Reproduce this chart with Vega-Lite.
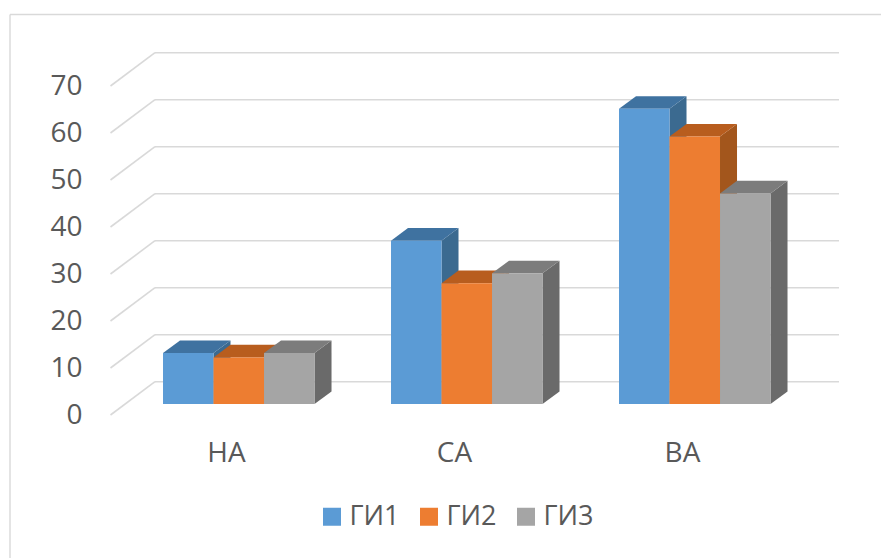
{
  "$schema": "https://vega.github.io/schema/vega-lite/v6.json",
  "autosize": "none",
  "width": 871.5,
  "height": 544,
  "padding": {"left": 9.5, "top": 14, "right": 0, "bottom": 0},
  "background": "white",
  "config": {"view": {"stroke": null}, "font": "Open Sans"},
  "datasets": {
    "levels": [
      {"level": 0}, {"level": 10}, {"level": 20}, {"level": 30},
      {"level": 40}, {"level": 50}, {"level": 60}, {"level": 70}
    ],
    "results": [
      {"group": "НА", "series": "ГИ1", "value": 10.85},
      {"group": "НА", "series": "ГИ2", "value": 9.9},
      {"group": "НА", "series": "ГИ3", "value": 10.85},
      {"group": "СА", "series": "ГИ1", "value": 34.75},
      {"group": "СА", "series": "ГИ2", "value": 25.7},
      {"group": "СА", "series": "ГИ3", "value": 27.8},
      {"group": "ВА", "series": "ГИ1", "value": 62.8},
      {"group": "ВА", "series": "ГИ2", "value": 56.9},
      {"group": "ВА", "series": "ГИ3", "value": 44.8}
    ]
  },
  "resolve": {"axis": {"x": "independent", "y": "independent"}},
  "layer": [
    {
      "data": {"name": "levels"},
      "transform": [
        {"calculate": "-0.5066", "as": "sideFrontX"},
        {"calculate": "-0.3114", "as": "sideBackX"},
        {"calculate": "datum.level - 2.34", "as": "sideFrontY"},
        {"calculate": "datum.level + 4.74", "as": "sideBackY"}
      ],
      "mark": {"type": "rule", "color": "#D9D9D9", "strokeWidth": 1.6},
      "encoding": {
        "x": {
          "field": "sideFrontX", "type": "quantitative",
          "scale": {"domain": [-0.9496, 2.8728], "nice": false, "zero": false},
          "axis": {"orient": "top", "title": null, "labels": false, "ticks": false, "grid": false, "domain": true, "domainColor": "#D9D9D9", "domainWidth": 1.4}
        },
        "x2": {"field": "sideBackX"},
        "y": {
          "field": "sideFrontY", "type": "quantitative",
          "scale": {"domain": [-32.77, 82.98], "nice": false, "zero": false},
          "axis": {"orient": "left", "title": null, "labels": false, "ticks": false, "grid": false, "domain": true, "domainColor": "#D9D9D9", "domainWidth": 1.4}
        },
        "y2": {"field": "sideBackY"}
      }
    },
    {
      "data": {"name": "levels"},
      "transform": [
        {"calculate": "-0.3114", "as": "backLeftX"},
        {"calculate": "2.6886", "as": "backRightX"},
        {"calculate": "datum.level + 4.74", "as": "backY"}
      ],
      "mark": {"type": "rule", "color": "#D9D9D9", "strokeWidth": 1.6},
      "encoding": {
        "x": {
          "field": "backLeftX", "type": "quantitative",
          "scale": {"domain": [-0.9496, 2.8728], "nice": false, "zero": false},
          "axis": {
            "orient": "bottom", "title": null, "values": [0, 1, 2],
            "labelExpr": "['НА', 'СА', 'ВА'][datum.value]",
            "offset": -119, "labelPadding": 0, "labelFontSize": 28, "labelColor": "#595959",
            "labelFont": "Open Sans", "labelAngle": 0, "labelBaseline": "top", "labelFlush": false, "labelOverlap": false,
            "ticks": false, "grid": false, "domain": false
          }
        },
        "x2": {"field": "backRightX"},
        "y": {
          "field": "backY", "type": "quantitative",
          "scale": {"domain": [-32.77, 82.98], "nice": false, "zero": false},
          "axis": {
            "orient": "left", "title": null, "values": [0, 10, 20, 30, 40, 50, 60, 70],
            "offset": -72.5, "labelPadding": 0, "labelOffset": 11.7, "labelFontSize": 28, "labelColor": "#595959",
            "labelFont": "Open Sans", "labelBaseline": "middle", "labelFlush": false, "labelOverlap": false,
            "ticks": false, "grid": false, "domain": false
          }
        }
      }
    },
    {
      "data": {"name": "results"},
      "transform": [
        {"calculate": "indexof(['НА', 'СА', 'ВА'], datum.group) - 0.2763 + indexof(['ГИ1', 'ГИ2', 'ГИ3'], datum.series) * 0.2215", "as": "x0"},
        {"calculate": "datum.x0 + 0.2215", "as": "x1"},
        {"calculate": "[datum.x1, datum.x1 + 0.0746, datum.x0, datum.x0 + 0.0746, datum.x1, datum.x1 + 0.0746, datum.x0, datum.x1]", "as": "vx"},
        {"calculate": "[datum.value, datum.value + 2.68, datum.value, datum.value + 2.68, datum.value + 2.68, datum.value + 2.68, datum.value, datum.value]", "as": "vy"},
        {"calculate": "[0, 2.68, datum.value, datum.value, datum.value, datum.value + 2.68, 0, 0]", "as": "vy2"},
        {"calculate": "[' бок', ' бок', ' верх', ' верх', ' верх', ' верх', '', '']", "as": "vface"},
        {"flatten": ["vx", "vy", "vy2", "vface"]},
        {"calculate": "datum.series + datum.vface", "as": "shade"},
        {"calculate": "datum.group + ' ' + datum.shade", "as": "piece"}
      ],
      "mark": {"type": "area", "opacity": 1, "interpolate": "linear"},
      "encoding": {
        "x": {"field": "vx", "type": "quantitative", "axis": null},
        "y": {"field": "vy", "type": "quantitative", "axis": null, "stack": null},
        "y2": {"field": "vy2"},
        "detail": {"field": "piece"},
        "color": {
          "field": "shade", "type": "nominal",
          "scale": {
            "domain": ["ГИ1", "ГИ2", "ГИ3", "ГИ1 верх", "ГИ2 верх", "ГИ3 верх", "ГИ1 бок", "ГИ2 бок", "ГИ3 бок"],
            "range": ["#5B9BD5", "#ED7D31", "#A5A5A5", "#3F72A0", "#B85D1E", "#7C7C7C", "#3B6A90", "#A3561C", "#6A6A6A"]
          },
          "legend": {
            "values": ["ГИ1", "ГИ2", "ГИ3"],
            "orient": "none", "legendX": 309, "legendY": 489, "direction": "horizontal", "columns": 3,
            "title": null, "symbolType": "square", "symbolSize": 324, "symbolStrokeWidth": 0, "symbolOpacity": 1,
            "labelFontSize": 27, "labelColor": "#595959", "labelFont": "Open Sans", "labelOffset": 4, "columnPadding": 16
          }
        }
      }
    }
  ]
}
